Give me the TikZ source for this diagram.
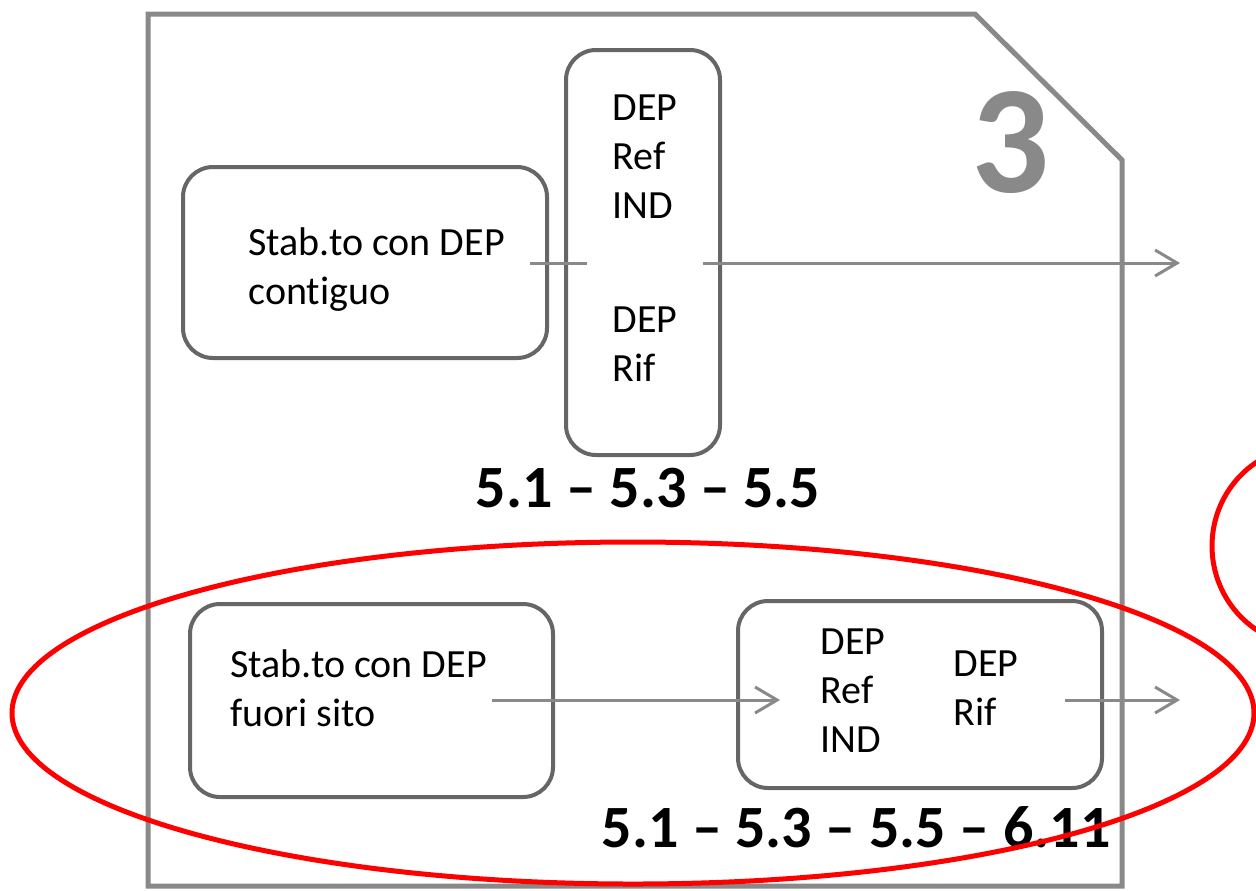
\documentclass[tikz,border=0pt]{standalone}
\usepackage{fontspec}
\setmainfont{Carlito}[Ligatures=NoCommon]
\usetikzlibrary{arrows.meta}
\definecolor{framegray}{HTML}{898989}
\definecolor{boxgray}{HTML}{666666}
\definecolor{ringred}{HTML}{FF0000}
\tikzset{
  stepbox/.style={draw=boxgray, line width=2pt, rounded corners=15pt, fill=white, inner sep=0pt},
  body/.style={font=\fontsize{20}{24.5}\selectfont, align=left, anchor=west, inner sep=0pt},
  reflabel/.style={font=\bfseries\fontsize{30}{36}\selectfont, inner sep=0pt},
  link/.style={draw=framegray, line width=1.5pt},
  flow/.style={link, -{Straight Barb[length=11pt,width=13pt]}},
  ring/.style={draw=ringred, line width=2.5pt},
  frame/.style={draw=framegray, line width=2.5pt, line join=miter}
}
\begin{document}
\begin{tikzpicture}[x=0.5pt, y=-0.5pt]
  \useasboundingbox (0,0) rectangle (1256,890);
  \clip (0,0) rectangle (1256,890);

  % section frame with cut corner
  \draw[frame] (148,14) -- (975,14) -- (1122,160) -- (1122,886) -- (148,886) -- cycle;
  \node[font=\bfseries\fontsize{77}{77}\selectfont, text=framegray, inner sep=0pt] (num) at (1011,143) {3};

  % upper group
  \node[stepbox, minimum width=182pt, minimum height=95.5pt] (A) at (365,262.5) {};
  \node[stepbox, minimum width=77pt, minimum height=202.5pt] (B) at (643,252.5) {};
  \node[body] (tA) at (248,270) {Stab.to con DEP\\contiguo};
  \node[body] (tB1) at (612,157) {DEP\\Ref\\IND};
  \node[body] (tB2) at (612,344) {DEP\\Rif};
  \node[reflabel] (lab1) at (648,488) {5.1 – 5.3 – 5.5};

  % lower group
  \node[stepbox, minimum width=181.5pt, minimum height=96.5pt] (C) at (371.5,700.5) {};
  \node[stepbox, minimum width=182pt, minimum height=93.5pt] (D) at (920,694.5) {};
  \node[body] (tC) at (230,688) {Stab.to con DEP\\fuori sito};
  \node[body] (tD1) at (820,691) {DEP\\Ref\\IND};
  \node[body] (tD2) at (953,688) {DEP\\Rif};
  \node[reflabel] (lab2) at (856,827) {5.1 – 5.3 – 5.5 – 6.11};

  % connectors
  \coordinate (a1) at (530,263);
  \coordinate (a2) at (587,263);
  \coordinate (a3) at (703,263);
  \coordinate (a4) at (1180,263);
  \draw[link] (a1) -- (a2);
  \draw[flow] (a3) -- (a4);

  \coordinate (b1) at (492,700);
  \coordinate (b2) at (780,700);
  \coordinate (b3) at (1065,700);
  \coordinate (b4) at (1180,700);
  \draw[flow] (b1) -- (b2);
  \draw[flow] (b3) -- (b4);

  % highlight rings
  \draw[ring] (633,713) ellipse [x radius=310.5pt, y radius=85.5pt];
  \draw[ring] (1310,546) ellipse [x radius=49pt, y radius=50pt];
\end{tikzpicture}
\end{document}
